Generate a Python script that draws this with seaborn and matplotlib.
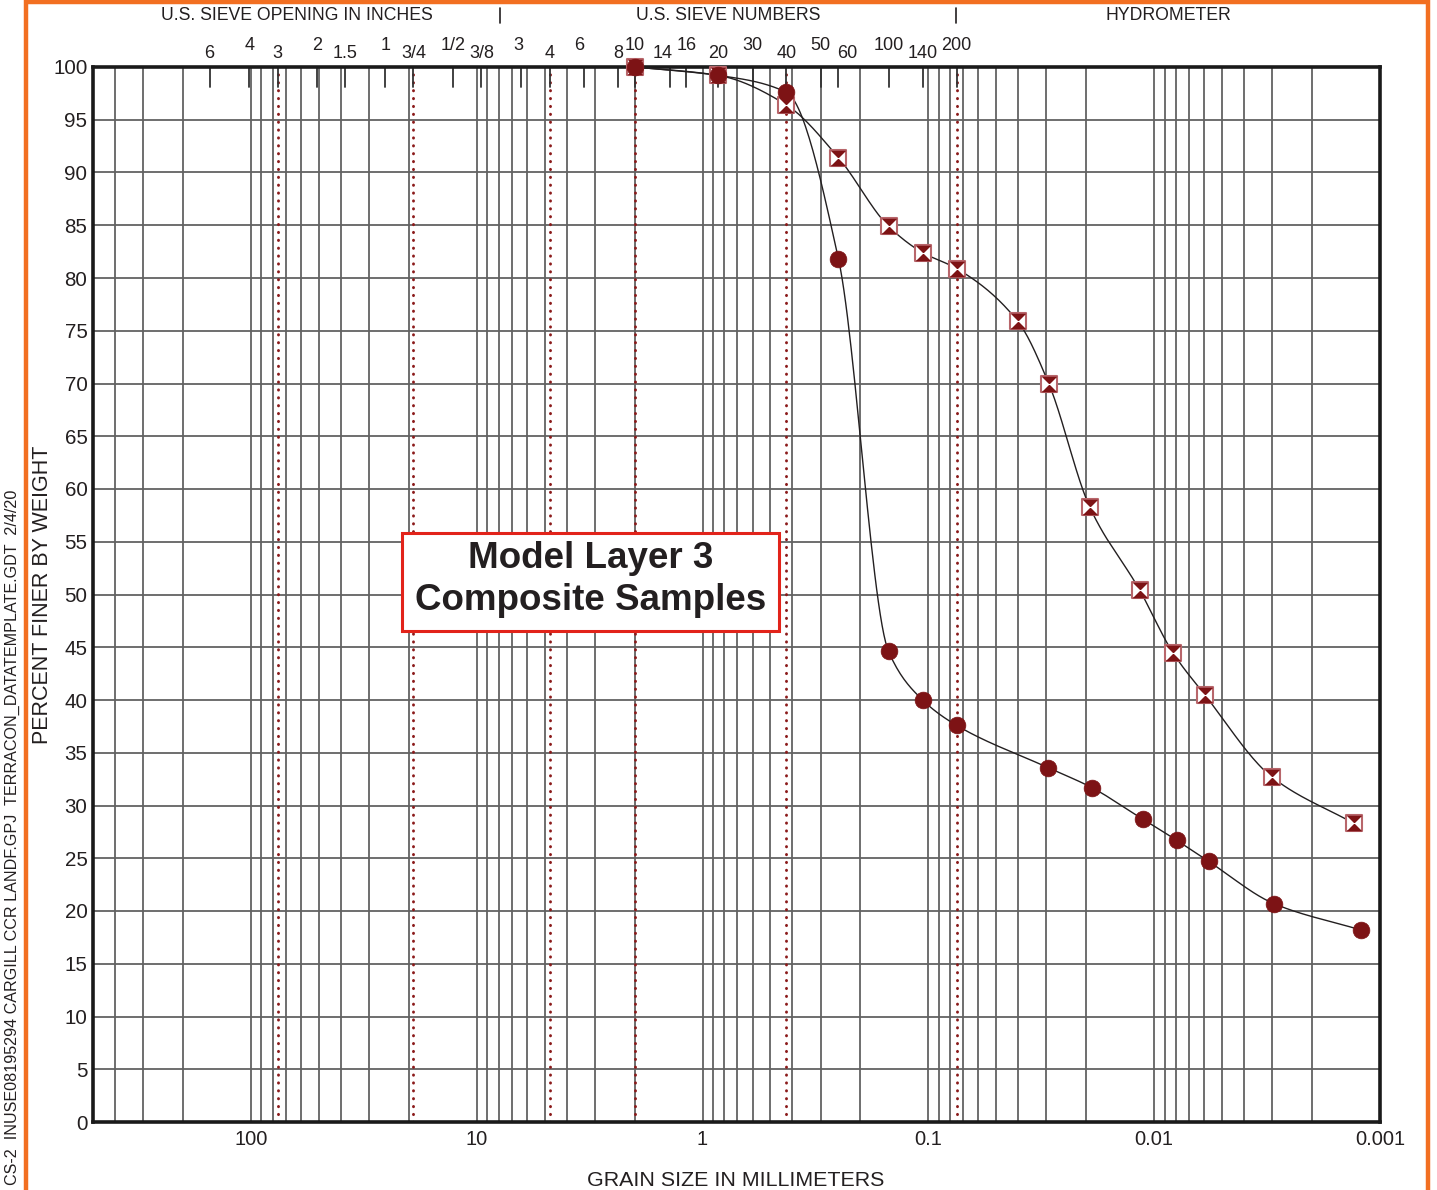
import numpy as np
import pandas as pd
import matplotlib
matplotlib.use("Agg")
import matplotlib.pyplot as plt
import matplotlib.transforms as mtransforms
from matplotlib.path import Path
from matplotlib.markers import MarkerStyle
from matplotlib.patches import Rectangle
from matplotlib.lines import Line2D
from matplotlib.ticker import FixedLocator, FixedFormatter, NullFormatter
import seaborn as sns

# ---- gradation data (grain size in mm, percent finer by weight) ----
sieve_sizes = [2.0, 0.85, 0.425, 0.25, 0.15, 0.106, 0.075]

circle_hydro_sizes = [0.0296, 0.0189, 0.01123, 0.00794, 0.00573, 0.00295, 0.001216]
circle_pct = [100.0, 99.2, 97.6, 81.8, 44.6, 40.0, 37.6,
              33.6, 31.7, 28.7, 26.7, 24.7, 20.7, 18.2]

square_hydro_sizes = [0.0402, 0.0293, 0.0193, 0.01158, 0.00827, 0.00597, 0.00301, 0.001305]
square_pct = [100.0, 99.2, 96.4, 91.4, 84.9, 82.4, 80.9,
              75.9, 70.0, 58.3, 50.4, 44.5, 40.5, 32.7, 28.3]

# ---- sieve scale along the top ----
top_labels = ["6", "4", "3", "2", "1.5", "1", "3/4", "1/2", "3/8",
              "3", "4", "6", "8", "10", "14", "16", "20", "30", "40",
              "50", "60", "100", "140", "200"]
top_sizes = [152.4, 101.6, 76.2, 50.8, 38.1, 25.4, 19.05, 12.7, 9.525,
             6.35, 4.75, 3.35, 2.36, 2.0, 1.4, 1.18, 0.85, 0.6, 0.425,
             0.3, 0.25, 0.15, 0.106, 0.075]
# horizontal nudge of a few crowded labels (pixels)
top_label_nudge = [0, 0, 0, 0, 0, 0, 0, 0, 0,
                   -3, 0, -5, 0, 0, -7, 0, 0, 0, 0,
                   0, 9, 0, 0, 0]

# boundaries between gravel / sand / fines classes
boundary_sizes = [76.2, 19.05, 4.75, 2.0, 0.425, 0.075]

x_tick_values = [100, 10, 1, 0.1, 0.01, 0.001]
x_tick_labels = ["100", "10", "1", "0.1", "0.01", "0.001"]
y_tick_values = list(range(0, 101, 5))

DARK_RED = "#7D1315"
INK = "#231F20"


def smooth_curve(sizes, pct, n=400):
    """Monotone cubic (Fritsch-Carlson) curve through points in log10(size)."""
    x = np.log10(np.asarray(sizes, float))[::-1]
    y = np.asarray(pct, float)[::-1]
    h = np.diff(x)
    d = np.diff(y) / h
    m = np.zeros_like(y)
    m[0], m[-1] = d[0], d[-1]
    for k in range(1, len(x) - 1):
        if d[k - 1] * d[k] <= 0:
            m[k] = 0.0
        else:
            w1 = 2 * h[k] + h[k - 1]
            w2 = h[k] + 2 * h[k - 1]
            m[k] = (w1 + w2) / (w1 / d[k - 1] + w2 / d[k])
    xs = np.linspace(x[0], x[-1], n)
    idx = np.clip(np.searchsorted(x, xs) - 1, 0, len(x) - 2)
    t = (xs - x[idx]) / h[idx]
    h00 = 2 * t**3 - 3 * t**2 + 1
    h10 = t**3 - 2 * t**2 + t
    h01 = -2 * t**3 + 3 * t**2
    h11 = t**3 - t**2
    ys = (h00 * y[idx] + h10 * h[idx] * m[idx]
          + h01 * y[idx + 1] + h11 * h[idx] * m[idx + 1])
    return 10**xs, ys


circle_sizes = sieve_sizes + circle_hydro_sizes
square_sizes = sieve_sizes + square_hydro_sizes
df_circle = pd.DataFrame({"size": circle_sizes, "pct": circle_pct})
df_square = pd.DataFrame({"size": square_sizes, "pct": square_pct})
cx, cy = smooth_curve(circle_sizes, circle_pct)
sx, sy = smooth_curve(square_sizes, square_pct)
curve_circle = pd.DataFrame({"size": cx, "pct": cy})
curve_square = pd.DataFrame({"size": sx, "pct": sy})

# ---- figure ----
sns.set_style("white")
plt.rcParams["font.family"] = ["Liberation Sans", "DejaVu Sans"]
plt.rcParams["text.color"] = INK

W, H = 1437, 1190
fig = plt.figure(figsize=(W / 100, H / 100), dpi=100)
ax = fig.add_axes([93 / W, 1 - 1122 / H, 1287 / W, 1055 / H])
ax.set_xscale("log")
ax.set_xlim(500, 0.001)
ax.set_ylim(0, 100)

# grid: every 1..9 multiple of each decade, every 5 percent
grid_x = [m * 10.0**e for e in range(-3, 3) for m in range(1, 10) if 0.001 < m * 10.0**e < 500]
ax.xaxis.set_major_locator(FixedLocator(x_tick_values))
ax.xaxis.set_major_formatter(FixedFormatter(x_tick_labels))
ax.xaxis.set_minor_locator(FixedLocator(grid_x))
ax.xaxis.set_minor_formatter(NullFormatter())
ax.yaxis.set_major_locator(FixedLocator(y_tick_values))
ax.grid(True, which="both", axis="x", color="#626262", lw=1.3, zorder=1)
ax.grid(True, which="major", axis="y", color="#626262", lw=1.3, zorder=1)
ax.set_axisbelow(True)
ax.tick_params(which="both", length=0)
ax.tick_params(axis="x", pad=6, labelsize=14.5, labelcolor=INK)
ax.tick_params(axis="y", pad=4, labelsize=14.8, labelcolor=INK)
for sp in ax.spines.values():
    sp.set_color("#1a1a1a")
    sp.set_linewidth(2.6)
    sp.set_visible(True)

# class boundaries as dotted red verticals
for b in boundary_sizes:
    ax.axvline(b, color="#8B1A1A", lw=2.1, ls=(0, (0.1, 2.6)),
               dash_capstyle="round", zorder=2)

# short ticks and sieve labels across the top
trans = mtransforms.blended_transform_factory(ax.transData, ax.transAxes)
for i, (lab, s, nud) in enumerate(zip(top_labels, top_sizes, top_label_nudge)):
    ax.plot([s, s], [1, 1 - 20 / 1055], color="#333333", lw=1.3, transform=trans,
            clip_on=False, zorder=2)
    yoff = 1 + (13 if i % 2 == 0 else 22) / 1055
    lab_trans = trans + mtransforms.ScaledTranslation(nud / 100, 0, fig.dpi_scale_trans)
    ax.text(s, yoff, lab, transform=lab_trans, ha="center", va="center",
            fontsize=13, color=INK)

# gradation curves
sns.lineplot(data=curve_circle, x="size", y="pct", ax=ax, sort=False,
             estimator=None, color=INK, lw=1.0, zorder=3)
sns.lineplot(data=curve_square, x="size", y="pct", ax=ax, sort=False,
             estimator=None, color=INK, lw=1.0, zorder=3)

# circle markers
sns.scatterplot(data=df_circle, x="size", y="pct", ax=ax, marker="o", s=145,
                color=DARK_RED, edgecolor=DARK_RED, linewidth=0.5,
                zorder=5, clip_on=False)

# square markers with hourglass fill
sns.scatterplot(data=df_square, x="size", y="pct", ax=ax, marker="s", s=125,
                color="white", edgecolor="#B8666B", linewidth=1.5,
                zorder=4, clip_on=False)
hourglass = Path([(-1, 1), (1, 1), (-1, -1), (1, -1), (-1, 1)],
                 [Path.MOVETO, Path.LINETO, Path.LINETO, Path.LINETO, Path.CLOSEPOLY])
ax.scatter(df_square["size"], df_square["pct"], marker=MarkerStyle(hourglass),
           s=125, color=DARK_RED, linewidths=0, zorder=4.5, clip_on=False)

ax.set_xlabel("")
ax.set_ylabel("")

# axis titles
fig.text(736 / W, 1 - 1180 / H, "GRAIN SIZE IN MILLIMETERS", ha="center",
         va="center", fontsize=15.4, color=INK)
fig.text(43 / W, 1 - 595 / H, "PERCENT FINER BY WEIGHT", ha="center",
         va="center", rotation=90, fontsize=15.5, color=INK)

# header
for xc, txt in [(297, "U.S. SIEVE OPENING IN INCHES"), (728, "U.S. SIEVE NUMBERS"),
                (1168, "HYDROMETER")]:
    fig.text(xc / W, 1 - 15 / H, txt, ha="center", va="center", fontsize=12.7, color=INK)
for xs_ in (500, 956):
    fig.add_artist(Line2D([xs_ / W, xs_ / W], [1 - 8 / H, 1 - 23 / H],
                          transform=fig.transFigure, color=INK, lw=1.2))

# label box
fig.add_artist(Rectangle((402 / W, 1 - 631 / H), 377 / W, 98 / H,
                         transform=fig.transFigure, facecolor="white",
                         edgecolor="#E2231A", lw=2.2, zorder=6))
fig.text(591 / W, 1 - 558 / H, "Model Layer 3", ha="center", va="center",
         fontsize=26.5, fontweight="bold", color=INK, zorder=7)
fig.text(591 / W, 1 - 601 / H, "Composite Samples", ha="center", va="center",
         fontsize=26.5, fontweight="bold", color=INK, zorder=7)

# file stamp along the left edge
fig.text(12 / W, 1 - 490 / H,
         "CS-2  INUSE08195294 CARGILL CCR LANDF.GPJ  TERRACON_DATATEMPLATE.GDT  2/4/20",
         rotation=90, rotation_mode="anchor", ha="right", va="center",
         fontsize=11.6, color=INK, family=["Liberation Sans Narrow", "Liberation Sans"])

# page frame
fig.add_artist(Rectangle((26 / W, -0.05), (1428 - 26) / W, 1.05 - 2 / H,
                         transform=fig.transFigure, facecolor="none",
                         edgecolor="#F26F21", lw=3.2, zorder=0))

fig.savefig("out.png", dpi=100)
